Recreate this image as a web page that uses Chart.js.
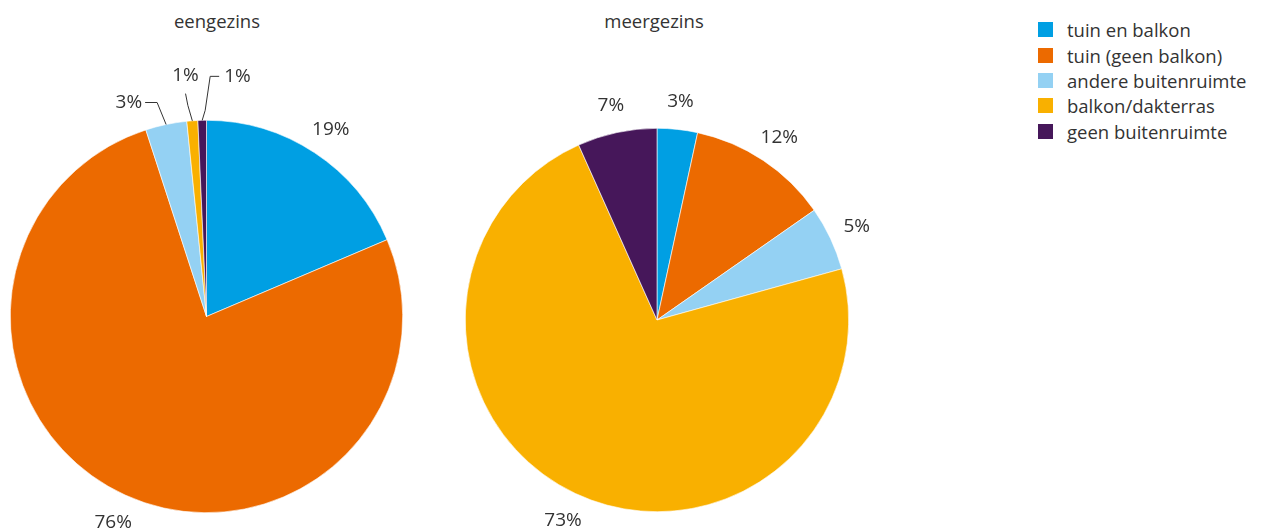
<!DOCTYPE html>
<html>
<head>
<meta charset="utf-8">
<script src="https://cdn.jsdelivr.net/npm/chart.js@4"></script>
<style>
  body { margin: 0; background: #fff; font-family: 'Open Sans', sans-serif; color: #333; }
  #wrap { position: relative; width: 1262px; height: 530px; overflow: hidden; }
  .box { position: absolute; top: 0; width: 440px; height: 530px; }
  .title { position: absolute; top: 8px; font-size: 18.5px; transform: translateX(-50%); white-space: nowrap; }
  #legend { position: absolute; left: 1038px; top: 17px; font-size: 18.5px; }
  #legend div { height: 25.4px; display: flex; align-items: center; white-space: nowrap; }
  #legend span { display: inline-block; width: 15px; height: 15px; margin-right: 14px; }
</style>
</head>
<body>
<div id="wrap">
  <div class="title" style="left:217px">eengezins</div>
  <div class="title" style="left:654px">meergezins</div>
  <div class="box" style="left:0"><canvas id="een"></canvas></div>
  <div class="box" style="left:440px"><canvas id="meer"></canvas></div>
  <div id="legend"></div>
</div>
<script>
// categories + colours
const categories = ['tuin en balkon', 'tuin (geen balkon)', 'andere buitenruimte', 'balkon/dakterras', 'geen buitenruimte'];
const colors = ['#009fe3', '#ec6a00', '#94d1f3', '#f9b000', '#46175a'];

// share of homes per type of outdoor space (%)
const eengezins = [18.6, 76.4, 3.4, 0.9, 0.7];
const meergezins = [3.4, 11.9, 5.4, 72.6, 6.7];

// percent labels around the pie, leader lines for the thin slices
const pctLabels = {
  id: 'pctLabels',
  afterDatasetsDraw(chart, args, opts) {
    const ctx = chart.ctx;
    const data = chart.data.datasets[0].data;
    const callouts = opts.callouts || {};
    ctx.save();
    ctx.font = '19px "Open Sans", sans-serif';
    ctx.fillStyle = '#333';
    ctx.strokeStyle = '#333';
    ctx.lineWidth = 1;
    ctx.textBaseline = 'middle';
    chart.getDatasetMeta(0).data.forEach((arc, i) => {
      const { x, y, startAngle, endAngle, outerRadius } =
        arc.getProps(['x', 'y', 'startAngle', 'endAngle', 'outerRadius'], true);
      const mid = (startAngle + endAngle) / 2;
      const cos = Math.cos(mid), sin = Math.sin(mid);
      const txt = Math.round(data[i]) + '%';
      const c = callouts[i];
      if (c) {
        let px = x + cos * outerRadius, py = y + sin * outerRadius;
        ctx.beginPath();
        ctx.moveTo(px, py);
        c.path.forEach(([dx, dy]) => { px += dx; py += dy; ctx.lineTo(px, py); });
        ctx.stroke();
        ctx.textAlign = c.align;
        ctx.fillText(txt, px + c.text[0], py + c.text[1]);
        return;
      }
      const r = outerRadius + opts.gap;
      ctx.textAlign = 'center';
      ctx.fillText(txt, x + cos * r, y + sin * r + 1);
    });
    ctx.restore();
  }
};

function makePie(id, values, padding, callouts) {
  return new Chart(document.getElementById(id), {
    type: 'pie',
    data: {
      labels: categories,
      datasets: [{
        data: values,
        backgroundColor: colors,
        borderColor: '#ffffff',
        borderWidth: 0.6,
        hoverOffset: 0,
      }]
    },
    options: {
      responsive: true,
      maintainAspectRatio: false,
      animation: false,
      layout: { padding },
      plugins: {
        legend: { display: false },
        tooltip: { enabled: false },
        pctLabels: { gap: 29, callouts },
      }
    },
    plugins: [pctLabels]
  });
}

makePie('een', eengezins, { left: 10, top: 120, right: 37, bottom: 17 }, {
  2: { path: [[-9, -22], [-12, 0]], text: [-3, 0], align: 'right' },
  3: { path: [[-4.5, -15.5], [-2.3, -11.7]], text: [0, -18], align: 'center' },
  4: { path: [[3, -10], [5, -34], [9, 0]], text: [5, 0], align: 'left' },
});
makePie('meer', meergezins, { left: 25, top: 128, right: 31, bottom: 18 }, {});

// legend
const legend = document.getElementById('legend');
categories.forEach((name, i) => {
  const row = document.createElement('div');
  row.innerHTML = '<span style="background:' + colors[i] + '"></span>' + name;
  legend.appendChild(row);
});
</script>
</body>
</html>
